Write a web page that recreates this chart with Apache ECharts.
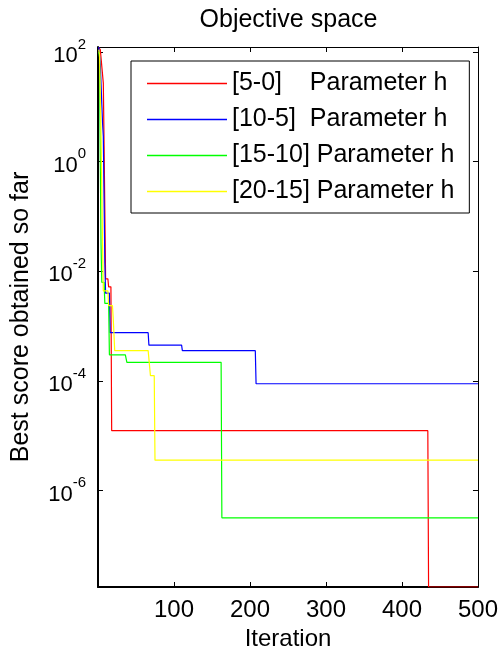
<!DOCTYPE html>
<html>
<head>
<meta charset="utf-8">
<script src="https://cdn.jsdelivr.net/npm/echarts@6/dist/echarts.min.js"></script>
<style>html,body{margin:0;padding:0;background:#fff}#c{width:501px;height:658px}</style>
</head>
<body>
<div id="c"></div>
<script>
// ---- data ----
const seriesNames = ['[5-0]    Parameter h', '[10-5]  Parameter h', '[15-10] Parameter h', '[20-15] Parameter h'];
const seriesColors = ['#ff0000', '#0000ff', '#00ff00', '#ffff00'];

const redIter = [1, 3, 7, 8, 9, 10, 13, 14, 17, 18, 434, 435, 500];
const redVal  = [120, 110, 27, 2, 0.13, 7.3e-3, 7.3e-3, 5.2e-3, 5.2e-3, 1.24e-5, 1.24e-5, 1.75e-8, 1.75e-8];

const blueIter = [1, 2, 3, 6, 7, 8, 9, 10, 15, 16, 66, 67, 110, 111, 207, 208, 500];
const blueVal  = [123, 123, 60, 5, 2.9, 0.2, 0.0145, 4e-3, 4e-3, 7.6e-4, 7.6e-4, 4.5e-4, 4.5e-4, 3.57e-4, 3.57e-4, 8.9e-5, 8.9e-5];

const greenIter = [1, 2, 3, 4, 5, 8, 9, 14, 15, 36, 38, 162, 163, 500];
const greenVal  = [100, 80, 1, 0.03, 6.3e-3, 6.3e-3, 2.6e-3, 2.6e-3, 3.0e-4, 3.0e-4, 2.19e-4, 2.19e-4, 3.2e-7, 3.2e-7];

const yellowIter = [1, 2, 4, 6, 7, 13, 14, 19, 20, 21, 22, 66, 69, 74, 75, 500];
const yellowVal  = [110, 90, 3, 0.03, 4.4e-3, 4.4e-3, 2.37e-3, 2.37e-3, 1.43e-3, 1.43e-3, 3.57e-4, 3.57e-4, 1.25e-4, 1.25e-4, 3.6e-6, 3.6e-6];

const xTicks = [100, 200, 300, 400, 500];
const yTickValues = [1e-6, 1e-4, 1e-2, 1, 100];
const yMin = 1.75e-8, yMax = 123;

// ---- chart ----
const FONT = '"Liberation Sans", Arial, Helvetica, sans-serif';
const pairs = (xs, ys) => xs.map((x, i) => [x, ys[i]]);
const allData = [pairs(redIter, redVal), pairs(blueIter, blueVal), pairs(greenIter, greenVal), pairs(yellowIter, yellowVal)];

const chart = echarts.init(document.getElementById('c'), null, {renderer: 'canvas'});
const yLabelFmt = v => {
  const e = Math.round(Math.log10(v));
  return '{b|10}{s|' + e + '}';
};
const xAxisBase = {
  type: 'value', min: 0, max: 500, interval: 100,
  splitLine: {show: false}
};
const yAxisBase = {
  type: 'log', logBase: 10, min: yMin, max: yMax,
  splitLine: {show: false}, minorTick: {show: false}, minorSplitLine: {show: false}
};

chart.setOption({
  animation: false,
  backgroundColor: '#ffffff',
  title: {
    text: 'Objective space', left: 288.5, top: 8, padding: 0, textAlign: 'center',
    textStyle: {fontSize: 25, fontWeight: 'normal', color: '#000', fontFamily: FONT}
  },
  legend: {
    orient: 'vertical', left: 131, top: 61,
    padding: [10, 15, 9, 16], itemGap: 11,
    itemWidth: 80, itemHeight: 1.5, icon: 'rect',
    backgroundColor: '#ffffff', borderColor: '#000', borderWidth: 1,
    textStyle: {fontSize: 25, lineHeight: 25, color: '#000', fontFamily: FONT},
    data: seriesNames
  },
  grid: {left: 98, right: 22, top: 47, bottom: 71, containLabel: false},
  xAxis: [
    Object.assign({}, xAxisBase, {
      position: 'bottom',
      axisLine: {show: true, onZero: false, lineStyle: {color: '#000', width: 2}},
      axisTick: {show: true, inside: true, length: 5, lineStyle: {color: '#000', width: 1}},
      axisLabel: {customValues: xTicks, margin: 11, fontSize: 24, color: '#000', fontFamily: FONT},
      name: 'Iteration', nameLocation: 'middle', nameGap: 39,
      nameTextStyle: {fontSize: 24, color: '#000', fontFamily: FONT}
    }),
    Object.assign({}, xAxisBase, {
      position: 'top',
      axisLine: {show: true, onZero: false, lineStyle: {color: '#000', width: 1}},
      axisTick: {show: true, inside: true, length: 5, lineStyle: {color: '#000', width: 1}},
      axisLabel: {show: false}
    })
  ],
  yAxis: [
    Object.assign({}, yAxisBase, {
      position: 'left',
      axisLine: {show: true, onZero: false, lineStyle: {color: '#000', width: 2}},
      axisTick: {show: true, inside: true, length: 5, customValues: yTickValues, lineStyle: {color: '#000', width: 1}},
      axisLabel: {
        customValues: yTickValues, margin: 12, formatter: yLabelFmt,
        rich: {
          b: {fontSize: 22, lineHeight: 30, verticalAlign: 'bottom', color: '#000', fontFamily: FONT},
          s: {fontSize: 15, lineHeight: 30, verticalAlign: 'top', color: '#000', fontFamily: FONT}
        }
      },
      name: 'Best score obtained so far', nameLocation: 'middle', nameGap: 64,
      nameTextStyle: {fontSize: 25, color: '#000', fontFamily: FONT}
    }),
    Object.assign({}, yAxisBase, {
      position: 'right',
      axisLine: {show: true, onZero: false, lineStyle: {color: '#000', width: 1}},
      axisTick: {show: true, inside: true, length: 5, customValues: yTickValues, lineStyle: {color: '#000', width: 1}},
      axisLabel: {show: false}
    })
  ],
  series: seriesNames.map((n, i) => ({
    name: n, type: 'line', xAxisIndex: 0, yAxisIndex: 0,
    data: allData[i], symbol: 'none', showSymbol: false,
    color: seriesColors[i],
    lineStyle: {color: seriesColors[i], width: 1.2},
    itemStyle: {color: seriesColors[i]},
    emphasis: {disabled: true}
  }))
});
</script>
</body>
</html>
